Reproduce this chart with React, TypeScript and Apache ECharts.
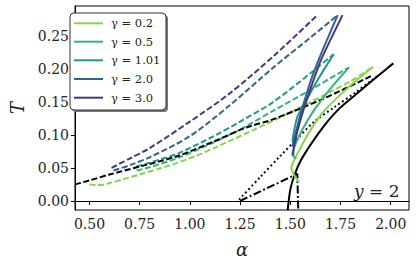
import React, { useEffect, useRef } from "react";
import * as echarts from "echarts";

// gamma values and colours
const gammaNames = ["γ = 0.2", "γ = 0.5", "γ = 1.01", "γ = 2.0", "γ = 3.0"];
const gammaColors = ["#86d549", "#2fb47c", "#1f9a8a", "#33638d", "#453781"];

// tick labels
const xTicks = [0.5, 0.75, 1.0, 1.25, 1.5, 1.75, 2.0];
const yTicks = [0.0, 0.05, 0.1, 0.15, 0.2, 0.25];

// curves: [alpha, T]
const g02Dashed = [[0.5, 0.025], [0.54, 0.0242], [0.57, 0.0245], [0.6, 0.027], [0.67, 0.033], [0.75, 0.04], [0.85, 0.049], [0.94, 0.058], [1.03, 0.068], [1.12, 0.08], [1.3, 0.105], [1.5, 0.134], [1.7, 0.165], [1.8, 0.181], [1.912, 0.203]];
const g02Solid = [[1.912, 0.203], [1.82, 0.18], [1.736, 0.157], [1.66, 0.133], [1.606, 0.11], [1.55, 0.08], [1.505, 0.05], [1.543, 0.028]];
const g05Dashed = [[0.735, 0.046], [0.8, 0.051], [0.94, 0.065], [1.1, 0.086], [1.25, 0.108], [1.407, 0.135], [1.6, 0.168], [1.792, 0.202]];
const g05Solid = [[1.792, 0.202], [1.7, 0.17], [1.62, 0.138], [1.56, 0.108], [1.525, 0.085], [1.51, 0.07], [1.53, 0.064]];
const g101Dashed = [[0.734, 0.052], [0.8, 0.058], [0.942, 0.072], [1.125, 0.099], [1.25, 0.12], [1.407, 0.148], [1.6, 0.193], [1.716, 0.222]];
const g101Solid = [[1.716, 0.222], [1.65, 0.19], [1.59, 0.158], [1.535, 0.127], [1.515, 0.1], [1.511, 0.09], [1.53, 0.096]];
const g2Dashed = [[0.62, 0.046], [0.7, 0.054], [0.8, 0.066], [1.0, 0.098], [1.2, 0.145], [1.42, 0.203], [1.6, 0.247], [1.736, 0.281]];
const g2Solid = [[1.736, 0.281], [1.65, 0.22], [1.6, 0.18], [1.55, 0.13], [1.52, 0.095], [1.51, 0.082]];
const g3Dashed = [[0.61, 0.05], [0.7, 0.064], [0.8, 0.08], [1.0, 0.12], [1.2, 0.163], [1.42, 0.22], [1.635, 0.281]];
const g3Solid = [[1.76, 0.281], [1.654, 0.214], [1.6, 0.169], [1.55, 0.122], [1.519, 0.084], [1.514, 0.069]];
const blackDashed = [[0.428, 0.025], [0.5, 0.031], [0.6, 0.04], [0.75, 0.052], [0.94, 0.068], [1.12, 0.09], [1.28, 0.111], [1.41, 0.123], [1.66, 0.154], [1.91, 0.19]];
const blackDotted = [[1.245, 0.002], [1.35, 0.036], [1.45, 0.068], [1.53, 0.093], [1.62, 0.12], [1.72, 0.142], [1.82, 0.163], [1.904, 0.182], [1.94, 0.19]];
const blackSolid = [[1.487, -0.014], [1.492, 0.0], [1.502, 0.02], [1.522, 0.04], [1.55, 0.06], [1.59, 0.08], [1.635, 0.1], [1.685, 0.12], [1.745, 0.14], [1.822, 0.16], [1.9, 0.18], [1.98, 0.2], [2.013, 0.208]];
const blackDashDot = [[1.25, 0.0], [1.535, 0.041], [1.54, -0.02]];

const SERIF = "DejaVu Serif";
const DASH = [6, 2.6];
const LW = 2;

export default function App() {
  const ref = useRef<HTMLDivElement>(null);
  useEffect(() => {
    if (!ref.current) return;
    const chart = echarts.init(ref.current, undefined, { renderer: "svg" });
    const line = (name: string, data: number[][], color: string, type: any, z: number, smooth = 0.3) => ({
      type: "line",
      name,
      data,
      symbol: "none",
      smooth,
      z,
      lineStyle: { color, width: LW, type },
      itemStyle: { color },
      silent: true,
    });
    const dashed = [g02Dashed, g05Dashed, g101Dashed, g2Dashed, g3Dashed];
    const solid = [g02Solid, g05Solid, g101Solid, g2Solid, g3Solid];
    const series: any[] = [];
    dashed.forEach((d, i) => series.push(line(gammaNames[i] + " (d)", d, gammaColors[i], DASH, 2)));
    series.push(line("black dashed", blackDashed, "#000", DASH, 3));
    series.push(line("black dotted", blackDotted, "#000", [1.8, 2.8], 3));
    series.push(line("black dashdot", blackDashDot, "#000", [8, 2.6, 1.8, 2.6], 3, 0));
    series.push(line("black solid", blackSolid, "#000", "solid", 3, 0.4));
    solid.forEach((d, i) => series.push(line(gammaNames[i], d, gammaColors[i], "solid", 4 + i, 0.2)));

    // legend drawn as graphic
    const lgLeft = 70, lgTop = 13, lgW = 96, lgH = 97;
    const rowY = [23.3, 41.7, 60.3, 79, 97.7];
    const legendEls: any[] = [
      { type: "rect", shape: { x: lgLeft + 2, y: lgTop + 2, width: lgW, height: lgH, r: 4 }, style: { fill: "#777" }, z: 100 },
      { type: "rect", shape: { x: lgLeft, y: lgTop, width: lgW, height: lgH, r: 4 }, style: { fill: "#fff", stroke: "#333", lineWidth: 1 }, z: 101 },
    ];
    gammaNames.forEach((n, i) => {
      legendEls.push({ type: "line", shape: { x1: 74, y1: rowY[i], x2: 103, y2: rowY[i] }, style: { stroke: gammaColors[i], lineWidth: 2 }, z: 102 });
      legendEls.push({
        type: "text",
        x: 111,
        y: rowY[i],
        style: { text: n, fontFamily: SERIF, fontSize: 11.5, fill: "#222", verticalAlign: "middle" },
        z: 102,
      });
    });

    chart.setOption({
      animation: false,
      textStyle: { fontFamily: SERIF },
      grid: { left: 63, right: 7, top: 6, bottom: 50, show: true, borderColor: "#000", borderWidth: 1, backgroundColor: "transparent" },
      xAxis: {
        type: "value",
        min: 0.428,
        max: 2.091,
        name: "α",
        nameLocation: "middle",
        nameGap: 30,
        nameTextStyle: { fontFamily: SERIF, fontStyle: "italic", fontSize: 18, color: "#222" },
        axisLine: { lineStyle: { color: "#000", width: 1 } },
        axisTick: { show: true, inside: false, length: 4, lineStyle: { color: "#000" }, customValues: xTicks },
        axisLabel: { customValues: xTicks, formatter: (v: number) => v.toFixed(2), fontFamily: SERIF, fontSize: 14, color: "#222", margin: 7 },
        splitLine: { show: false },
      },
      yAxis: {
        type: "value",
        min: -0.0137,
        max: 0.2948,
        name: "T",
        nameLocation: "middle",
        nameGap: 49,
        nameRotate: 90,
        nameTextStyle: { fontFamily: SERIF, fontStyle: "italic", fontSize: 18, color: "#222" },
        axisLine: { show: true, lineStyle: { color: "#000", width: 1 } },
        axisTick: { show: true, inside: false, length: 4, lineStyle: { color: "#000" }, customValues: yTicks },
        axisLabel: { customValues: yTicks, formatter: (v: number) => v.toFixed(2), fontFamily: SERIF, fontSize: 14, color: "#222", margin: 6 },
        splitLine: { show: false },
      },
      graphic: [
        ...legendEls,
        {
          type: "text",
          x: 354,
          y: 191,
          style: {
            text: "{i|y} = 2",
            fontFamily: SERIF,
            fontSize: 17,
            fill: "#222",
            verticalAlign: "middle",
            rich: { i: { fontFamily: SERIF, fontStyle: "italic", fontSize: 17, fill: "#222" } },
          },
          z: 50,
        },
      ],
      series,
    });
    return () => chart.dispose();
  }, []);
  return <div ref={ref} style={{ width: 416, height: 263, position: "absolute", left: 0, top: 0 }} />;
}
